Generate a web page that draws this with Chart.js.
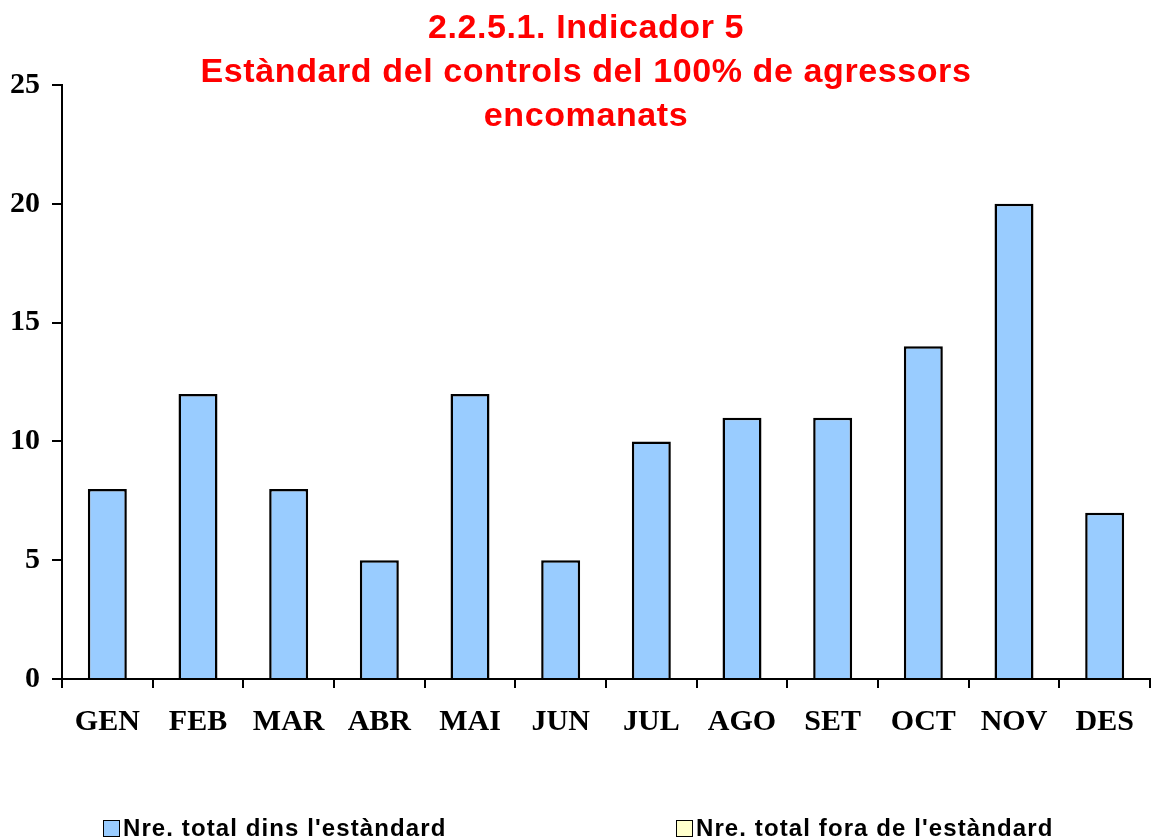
<!DOCTYPE html>
<html>
<head>
<meta charset="utf-8">
<script src="https://cdn.jsdelivr.net/npm/chart.js@4.4.1/dist/chart.umd.min.js"></script>
<style>
    html, body { margin: 0; padding: 0; background: #fff; }
    #wrap { position: relative; width: 1151px; height: 840px; }
    #legend { position: absolute; left: 0; top: 0; width: 1151px; height: 840px; pointer-events: none; }
    .leg-item { position: absolute; top: 814px; height: 28px; display: flex; align-items: center;
        font: bold 24px "Liberation Sans", Arial, sans-serif; color: #000; letter-spacing: 1.1px; white-space: nowrap; }
    .leg-box { width: 15px; height: 15px; border: 1.5px solid #000; margin-right: 3px; }
</style>
</head>
<body>
<div id="wrap">
    <canvas id="chart" width="1151" height="840"></canvas>
    <div id="legend"></div>
</div>
<script>
// Data
const months = ['GEN', 'FEB', 'MAR', 'ABR', 'MAI', 'JUN', 'JUL', 'AGO', 'SET', 'OCT', 'NOV', 'DES'];
const dinsEstandard = [8, 12, 8, 5, 12, 5, 10, 11, 11, 14, 20, 7];
const foraEstandard = [0, 0, 0, 0, 0, 0, 0, 0, 0, 0, 0, 0];
const seriesLabels = ["Nre. total dins l'estàndard", "Nre. total fora de l'estàndard"];
const titleLines = ['2.2.5.1. Indicador 5', 'Estàndard del controls del 100% de agressors', 'encomanats'];

const tickFont = { family: '"Liberation Serif", "Times New Roman", serif', size: 30, weight: 'bold' };

// Title drawn over the top of the plot, like the original
const titlePlugin = {
    id: 'overlayTitle',
    afterDraw(chart) {
        const ctx = chart.ctx;
        ctx.save();
        ctx.fillStyle = '#FF0000';
        ctx.font = 'bold 34px "Liberation Sans", Arial, sans-serif';
        ctx.letterSpacing = '0.6px';
        ctx.textAlign = 'center';
        ctx.textBaseline = 'alphabetic';
        titleLines.forEach((line, i) => {
            ctx.fillText(line, 586, 38 + i * 44);
        });
        ctx.restore();
    }
};

const chart = new Chart(document.getElementById('chart').getContext('2d'), {
    type: 'bar',
    data: {
        labels: months,
        datasets: [{
            label: seriesLabels[0],
            data: dinsEstandard,
            backgroundColor: '#99CCFF',
            borderColor: '#000000',
            borderWidth: 2.5,
            borderSkipped: 'bottom'
        }, {
            label: seriesLabels[1],
            data: foraEstandard,
            backgroundColor: '#FFFFCC',
            borderColor: '#000000',
            borderWidth: 0
        }]
    },
    options: {
        responsive: false,
        animation: false,
        layout: { padding: { top: 85, right: 1, left: 0, bottom: 0 } },
        datasets: { bar: { categoryPercentage: 1, barPercentage: 0.43 } },
        plugins: {
            legend: { display: false },
            title: { display: false },
            tooltip: { enabled: false }
        },
        scales: {
            x: {
                stacked: true,
                border: { display: true, color: '#000', width: 2 },
                grid: { offset: true, drawOnChartArea: false, drawTicks: true, tickLength: 9, color: '#000', lineWidth: 2 },
                ticks: { color: '#000', font: tickFont, padding: 16, maxRotation: 0, autoSkip: false },
                afterFit(scale) { scale.height = 161; }
            },
            y: {
                stacked: true,
                min: 0,
                max: 25,
                border: { display: true, color: '#000', width: 2 },
                grid: { drawOnChartArea: false, drawTicks: true, tickLength: 10, color: '#000', lineWidth: 2 },
                ticks: { stepSize: 5, color: '#000', font: tickFont, padding: 12 },
                afterFit(scale) { scale.width = 62; }
            }
        }
    },
    plugins: [titlePlugin]
});

// Legend built from the datasets, placed like the original
const legendPos = [103, 676];
const legendEl = document.getElementById('legend');
chart.data.datasets.forEach((ds, i) => {
    const item = document.createElement('div');
    item.className = 'leg-item';
    item.style.left = legendPos[i] + 'px';
    const box = document.createElement('span');
    box.className = 'leg-box';
    box.style.background = ds.backgroundColor;
    item.appendChild(box);
    item.appendChild(document.createTextNode(ds.label));
    legendEl.appendChild(item);
});
</script>
</body>
</html>
